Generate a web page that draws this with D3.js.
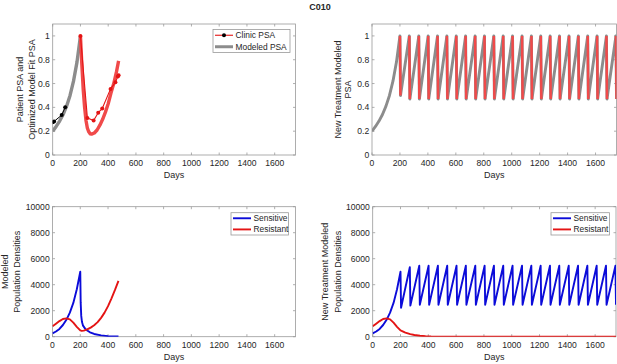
<!DOCTYPE html>
<html>
<head>
<meta charset="utf-8">
<script src="https://cdn.jsdelivr.net/npm/d3@7"></script>
<style>
  body { margin: 0; background: #fff; }
  svg text { font-family: "Liberation Sans", Arial, Helvetica, sans-serif; fill: #262626; }
</style>
</head>
<body>
<div id="chart"></div>
<script>
// ---- data ----
var dayTicks = [0, 200, 400, 600, 800, 1000, 1200, 1400, 1600];
var psaTicks = [0, 0.2, 0.4, 0.6, 0.8, 1];
var popTicks = [0, 2000, 4000, 6000, 8000, 10000];

// clinic PSA (pre-treatment black, on-treatment red)
var clinicPreDays = [0, 10, 65, 90];
var clinicPrePsa = [0.275, 0.282, 0.335, 0.40];
var clinicOnDays = [200, 250, 295, 328, 357, 417, 452, 470, 475];
var clinicOnPsa = [1.0, 0.31, 0.29, 0.355, 0.39, 0.555, 0.61, 0.66, 0.67];

// modeled PSA before treatment
var riseDays = [0, 25, 50, 75, 100, 125, 150, 175, 200];
var risePsa = [0.2, 0.24, 0.285, 0.34, 0.41, 0.5, 0.62, 0.78, 1.0];
// modeled PSA fit after treatment start
var fitDays = [200, 210, 220, 230, 240, 250, 260, 270, 280, 300, 320, 340, 360, 380, 400, 420, 440, 460, 475];
var fitPsa = [1.0, 0.76, 0.55, 0.40, 0.29, 0.225, 0.195, 0.178, 0.175, 0.185, 0.21, 0.25, 0.30, 0.36, 0.43, 0.52, 0.60, 0.70, 0.79];

// new treatment cycles
var peakDays = [200, 267, 335, 402, 469, 536, 603, 670, 738, 805, 872, 939, 1006, 1074, 1141, 1208, 1275, 1342, 1410, 1477, 1544, 1611, 1678, 1746];
var troughDays = [204, 271, 339, 406, 473, 540, 607, 674, 742, 809, 876, 943, 1010, 1078, 1145, 1212, 1279, 1346, 1414, 1481, 1548, 1615, 1682, 1750];
var psaPeaks = [1, 1, 1, 1, 1, 1, 1, 1, 1, 1, 1, 1, 1, 1, 1, 1, 1, 1, 1, 1, 1, 1, 1, 1];
var psaTroughs = [0.50, 0.47, 0.47, 0.47, 0.47, 0.47, 0.47, 0.47, 0.47, 0.47, 0.47, 0.47, 0.47, 0.47, 0.47, 0.47, 0.47, 0.47, 0.47, 0.47, 0.47, 0.47, 0.47, 0.47];
var sensPeaks = [5000, 5340, 5460, 5460, 5460, 5460, 5460, 5460, 5460, 5460, 5460, 5460, 5460, 5460, 5460, 5460, 5460, 5460, 5460, 5460, 5460, 5460, 5460, 5460];
var sensTroughs = [2230, 2390, 2460, 2460, 2460, 2460, 2460, 2460, 2460, 2460, 2460, 2460, 2460, 2460, 2460, 2460, 2460, 2460, 2460, 2460, 2460, 2460, 2460, 2460];

// populations before treatment
var sensRise = [260, 400, 600, 900, 1300, 1850, 2600, 3650, 5000];
var resRise = [800, 1000, 1200, 1360, 1410, 1330, 1080, 760, 480];

// populations, fitted treatment
var sensFitDays = [200, 203, 207, 212, 220, 235, 250, 270, 300, 350, 400, 475];
var sensFit = [5000, 2600, 1600, 1150, 850, 620, 480, 340, 210, 100, 45, 15];
var resFitDays = [200, 210, 225, 250, 275, 300, 325, 350, 375, 400, 425, 450, 475];
var resFit = [480, 450, 470, 560, 700, 880, 1120, 1450, 1850, 2350, 2950, 3600, 4300];

// resistant population, new treatment
var resNewDays = [200, 235, 270, 300, 340, 380, 420, 500, 600, 800, 1750];
var resNew = [480, 320, 200, 130, 75, 35, 18, 6, 2, 0, 0];

// ---- drawing ----
var W = 617, H = 364;
var colGray = "#8c8c8c", colFitRed = "#f04a4a", colRed = "#e41414", colBlue = "#0b0bd9";

var svg = d3.select("#chart").append("svg").attr("width", W).attr("height", H);

svg.append("text").attr("x", 320).attr("y", 9.5).attr("text-anchor", "middle")
  .style("font-size", "9px").style("font-weight", "bold").text("C010");

function zip(xs, ys) {
  return xs.map(function (d, i) { return [d, ys[i]]; });
}

// builds one axes box with ticks, labels and a clip region
function makePanel(id, box, yMax, yTicks, yFmt, labelLines, labelXs) {
  var x = d3.scaleLinear().domain([0, 1750]).range([box.left, box.right]);
  var y = d3.scaleLinear().domain([0, yMax]).range([box.bottom, box.top]);
  var g = svg.append("g");

  svg.append("clipPath").attr("id", id).append("rect")
    .attr("x", box.left).attr("y", box.top)
    .attr("width", box.right - box.left).attr("height", box.bottom - box.top);

  // ticks inward on all four sides
  var tl = 2.5;
  dayTicks.forEach(function (t) {
    g.append("line").attr("x1", x(t)).attr("x2", x(t)).attr("y1", box.bottom).attr("y2", box.bottom - tl)
      .attr("stroke", "#9a9a9a").attr("stroke-width", 0.8);
    g.append("line").attr("x1", x(t)).attr("x2", x(t)).attr("y1", box.top).attr("y2", box.top + tl)
      .attr("stroke", "#9a9a9a").attr("stroke-width", 0.8);
    g.append("text").attr("x", x(t)).attr("y", box.bottom + 11).attr("text-anchor", "middle")
      .style("font-size", "8.6px").text(t);
  });
  yTicks.forEach(function (t) {
    g.append("line").attr("x1", box.left).attr("x2", box.left + tl).attr("y1", y(t)).attr("y2", y(t))
      .attr("stroke", "#9a9a9a").attr("stroke-width", 0.8);
    g.append("line").attr("x1", box.right).attr("x2", box.right - tl).attr("y1", y(t)).attr("y2", y(t))
      .attr("stroke", "#9a9a9a").attr("stroke-width", 0.8);
    g.append("text").attr("x", box.left - 2.8).attr("y", y(t)).attr("dy", "0.35em").attr("text-anchor", "end")
      .style("font-size", "8.6px").text(yFmt(t));
  });
  g.append("rect").attr("x", box.left).attr("y", box.top)
    .attr("width", box.right - box.left).attr("height", box.bottom - box.top)
    .attr("fill", "none").attr("stroke", "#9a9a9a").attr("stroke-width", 0.8);

  g.append("text").attr("x", (box.left + box.right) / 2).attr("y", box.bottom + 23)
    .attr("text-anchor", "middle").style("font-size", "9px").text("Days");

  var cy = (box.top + box.bottom) / 2;
  labelLines.forEach(function (s, i) {
    g.append("text").attr("transform", "translate(" + labelXs[i] + "," + cy + ")rotate(-90)")
      .attr("dy", "0.35em").attr("text-anchor", "middle").style("font-size", "9px").text(s);
  });

  var plot = svg.append("g").attr("clip-path", "url(#" + id + ")");
  return { x: x, y: y, plot: plot };
}

function addLine(p, pts, color, width) {
  var line = d3.line().x(function (d) { return p.x(d[0]); }).y(function (d) { return p.y(d[1]); });
  p.plot.append("path").datum(pts).attr("d", line).attr("fill", "none")
    .attr("stroke", color).attr("stroke-width", width).attr("stroke-linejoin", "round");
}

function addLegend(box, rows) {
  var g = svg.append("g");
  g.append("rect").attr("x", box.x).attr("y", box.y).attr("width", box.w).attr("height", box.h)
    .attr("fill", "#fff").attr("stroke", "#9a9a9a").attr("stroke-width", 0.8);
  rows.forEach(function (r, i) {
    var yy = box.y + box.h * (i + 0.5) / rows.length;
    g.append("line").attr("x1", box.x + 2).attr("x2", box.x + 20).attr("y1", yy).attr("y2", yy)
      .attr("stroke", r.color).attr("stroke-width", r.width);
    if (r.marker) {
      g.append("circle").attr("cx", box.x + 11).attr("cy", yy).attr("r", 2).attr("fill", r.marker);
    }
    g.append("text").attr("x", box.x + 22.5).attr("y", yy).attr("dy", "0.35em")
      .style("font-size", "8.4px").text(r.label);
  });
}

var psaFmt = function (d) { return d3.format("~g")(d); };
var popFmt = function (d) { return String(d); };

// panel A: patient PSA and fit
var A = makePanel("clipA", { left: 52.7, right: 295.5, top: 24, bottom: 155 }, 1.1, psaTicks, psaFmt,
  ["Patient PSA and", "Optimized Model Fit PSA"], [20, 31.5]);
addLine(A, zip(riseDays, risePsa), colGray, 3.4);
addLine(A, zip(fitDays, fitPsa), colFitRed, 3.4);
addLine(A, zip(clinicPreDays, clinicPrePsa), "#000", 1);
zip(clinicPreDays, clinicPrePsa).forEach(function (d) {
  A.plot.append("circle").attr("cx", A.x(d[0])).attr("cy", A.y(d[1])).attr("r", 2).attr("fill", "#000");
});
addLine(A, zip(clinicOnDays, clinicOnPsa), colRed, 1.1);
zip(clinicOnDays, clinicOnPsa).forEach(function (d) {
  A.plot.append("circle").attr("cx", A.x(d[0])).attr("cy", A.y(d[1])).attr("r", 2).attr("fill", colRed);
});
addLegend({ x: 213, y: 29.5, w: 77, h: 23 }, [
  { label: "Clinic PSA", color: colRed, width: 1.1, marker: "#000" },
  { label: "Modeled PSA", color: colGray, width: 3 }
]);

// panel B: new treatment PSA
var B = makePanel("clipB", { left: 372, right: 616.5, top: 24, bottom: 155 }, 1.1, psaTicks, psaFmt,
  ["New Treatment Modeled", "PSA"], [337.5, 347.5]);
var grayB = zip(riseDays, risePsa);
peakDays.forEach(function (d, i) {
  grayB.push([d, psaPeaks[i]]);
  grayB.push([troughDays[i], psaTroughs[i]]);
});
addLine(B, grayB, colGray, 2.9);
peakDays.forEach(function (d, i) {
  addLine(B, [[d, psaPeaks[i]], [troughDays[i], psaTroughs[i]]], colFitRed, 2.5);
});

// panel C: modeled populations
var C = makePanel("clipC", { left: 52.5, right: 295.5, top: 206.7, bottom: 336.7 }, 10000, popTicks, popFmt,
  ["Modeled", "Population Densities"], [4.8, 16.8]);
addLine(C, zip(riseDays, sensRise).concat(zip(sensFitDays, sensFit).slice(1)), colBlue, 1.9);
addLine(C, zip(riseDays, resRise).concat(zip(resFitDays, resFit).slice(1)), colRed, 1.9);
addLegend({ x: 231, y: 212.7, w: 57.5, h: 22.3 }, [
  { label: "Sensitive", color: colBlue, width: 1.9 },
  { label: "Resistant", color: colRed, width: 1.9 }
]);

// panel D: new treatment populations
var D = makePanel("clipD", { left: 372.7, right: 616, top: 206.7, bottom: 336.7 }, 10000, popTicks, popFmt,
  ["New Treatment Modeled", "Population Densities"], [324.5, 337.5]);
var blueD = zip(riseDays, sensRise);
peakDays.forEach(function (d, i) {
  blueD.push([d, sensPeaks[i]]);
  blueD.push([troughDays[i], sensTroughs[i]]);
});
addLine(D, blueD, colBlue, 1.9);
addLine(D, zip(riseDays, resRise).concat(zip(resNewDays, resNew).slice(1)), colRed, 1.9);
addLegend({ x: 551, y: 212.7, w: 58.5, h: 22.3 }, [
  { label: "Sensitive", color: colBlue, width: 1.9 },
  { label: "Resistant", color: colRed, width: 1.9 }
]);
</script>
</body>
</html>
